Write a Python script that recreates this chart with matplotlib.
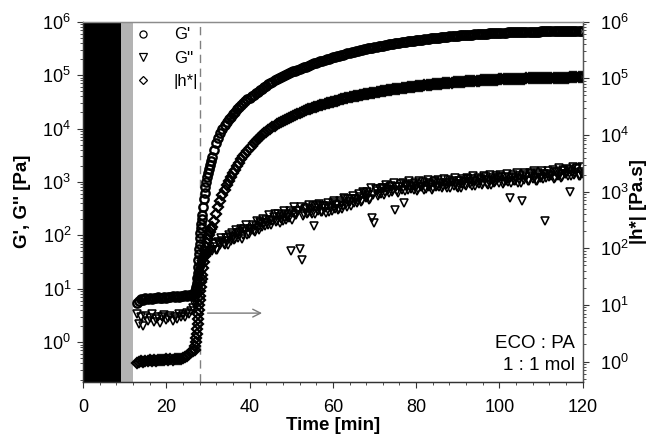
import matplotlib
matplotlib.use("Agg")
import matplotlib.pyplot as plt
from matplotlib.ticker import FixedLocator, MultipleLocator, NullFormatter

plt.rcParams['font.family'] = ['Liberation Sans', 'DejaVu Sans']

# ---------------- data ----------------
# before gelation (min)
time_plateau = [13.0, 13.5, 14.0, 14.5, 15.0, 15.5, 16.0, 16.5, 17.0, 17.5,
                18.0, 18.5, 19.0, 19.5, 20.0, 20.5, 21.0, 21.5, 22.0, 22.5,
                23.0, 23.5, 24.0, 24.5, 25.0, 25.5, 26.0, 26.5]
gp_plateau = [5.4, 5.9, 6.3, 6.2, 6.6, 6.4, 6.7, 6.5, 6.8, 6.6,
              6.9, 6.7, 6.8, 7.0, 6.8, 7.1, 6.9, 7.2, 7.0, 7.3,
              7.1, 7.4, 7.2, 7.5, 7.4, 7.6, 7.7, 7.9]
gpp_plateau = [3.4, 2.2, 2.9, 2.0, 3.1, 2.5, 2.8, 3.3, 2.4, 2.7,
               3.0, 2.3, 2.9, 3.2, 2.6, 2.8, 3.1, 2.5, 3.0, 2.7,
               3.3, 2.9, 3.2, 3.0, 3.5, 3.4, 3.9, 4.4]
eta_plateau = [0.95, 0.98, 1.02, 1.0, 1.04, 1.01, 1.05, 1.03, 1.06, 1.04,
               1.07, 1.05, 1.08, 1.06, 1.09, 1.07, 1.10, 1.08, 1.11, 1.10,
               1.13, 1.12, 1.15, 1.2, 1.27, 1.35, 1.45, 1.55]

# around the gel point (min)
time_gel = [26.8, 27.0, 27.1, 27.2, 27.3, 27.4, 27.5, 27.6, 27.7, 27.8,
            27.9, 28.0, 28.1, 28.2, 28.3, 28.4, 28.5, 28.6, 28.8, 29.0,
            29.2, 29.4, 29.6, 29.8, 30.0, 30.25, 30.5, 30.75, 31.0]
gp_gel = [8.3, 9.0, 9.8, 11, 13, 16, 20, 26, 34, 44,
          56, 70, 88, 110, 135, 165, 200, 240, 340, 470,
          630, 800, 1000, 1220, 1450, 1750, 2080, 2450, 2880]
gpp_gel = [5.0, 5.9, 6.2, 7.8, 8.1, 10.2, 10.5, 13.2, 13.4, 16.8,
           17.2, 21, 21.5, 25, 25.2, 29.5, 28, 32.5, 31.5, 37.5,
           35.5, 41.5, 40.5, 45.5, 44, 50, 48, 53, 51]
eta_gel = [1.6, 1.9, 2.2, 2.6, 3.1, 3.8, 4.6, 5.6, 6.8, 8.2,
           10, 12, 14.5, 17.5, 21, 25, 29, 34, 45, 58,
           72, 88, 105, 125, 145, 170, 195, 215, 235]

# curing (min)
time_cure = [31.5, 32.0, 32.5, 33.0, 33.5, 34.0, 34.5, 35.0, 35.5, 36.0,
             36.5, 37.0, 37.5, 38.0, 38.5, 39.0, 39.5, 40.0, 40.5, 41.0,
             41.5, 42.0, 42.5, 43.0, 43.5, 44.0, 44.5, 45.0, 45.5, 46.0,
             46.5, 47.0, 47.5, 48.0, 48.5, 49.0, 49.5, 50.0, 50.5, 51.0,
             51.5, 52.0, 52.5, 53.0, 53.5, 54.0, 54.5, 55.0, 55.5, 56.0,
             56.5, 57.0, 57.5, 58.0, 58.5, 59.0, 59.5, 60.0, 60.5, 61.0,
             61.5, 62.0, 62.5, 63.0, 63.5, 64.0, 64.5, 65.0, 65.5, 66.0,
             66.5, 67.0, 67.5, 68.0, 68.5, 69.0, 69.5, 70.0, 70.5, 71.0,
             71.5, 72.0, 72.5, 73.0, 73.5, 74.0, 74.5, 75.0, 75.5, 76.0,
             76.5, 77.0, 77.5, 78.0, 78.5, 79.0, 79.5, 80.0, 80.5, 81.0,
             81.5, 82.0, 82.5, 83.0, 83.5, 84.0, 84.5, 85.0, 85.5, 86.0,
             86.5, 87.0, 87.5, 88.0, 88.5, 89.0, 89.5, 90.0, 90.5, 91.0,
             91.5, 92.0, 92.5, 93.0, 93.5, 94.0, 94.5, 95.0, 95.5, 96.0,
             96.5, 97.0, 97.5, 98.0, 98.5, 99.0, 99.5, 100.0, 100.5, 101.0,
             101.5, 102.0, 102.5, 103.0, 103.5, 104.0, 104.5, 105.0, 105.5, 106.0,
             106.5, 107.0, 107.5, 108.0, 108.5, 109.0, 109.5, 110.0, 110.5, 111.0,
             111.5, 112.0, 112.5, 113.0, 113.5, 114.0, 114.5, 115.0, 115.5, 116.0,
             116.5, 117.0, 117.5, 118.0, 118.5, 119.0, 119.5, 120.0]
gp_cure = [3980, 5250, 6610, 8320, 9770, 11500, 13000, 14800, 16600, 18600,
           20700, 22900, 25100, 27500, 29900, 32400, 35100, 37600, 40300, 43200,
           45700, 49000, 52500, 55600, 58900, 63100, 66800, 70800, 75000, 79400,
           83200, 87100, 91200, 95500, 100000, 105000, 108000, 113500, 117500, 121600,
           125900, 130300, 134900, 139600, 144500, 149600, 154900, 160300, 166000, 169800,
           175800, 182000, 186200, 192800, 197200, 204200, 208900, 216300, 221300, 226500,
           231700, 237100, 242700, 248300, 254100, 260000, 266100, 272300, 278600, 285100,
           291100, 297200, 303400, 309700, 316200, 322100, 328100, 334200, 340400, 346700,
           352400, 358100, 363900, 369800, 375800, 381900, 388100, 393600, 399000, 404600,
           410200, 415900, 421700, 427600, 432500, 437500, 442600, 447700, 452900, 458100,
           463400, 468800, 474200, 479800, 485300, 491000, 495500, 500000, 504700, 509300,
           514000, 518800, 523600, 528400, 533300, 538300, 543300, 548300, 552100, 555900,
           559800, 563600, 567500, 571500, 575400, 579400, 583400, 587500, 591600, 595700,
           598400, 601200, 603900, 606700, 609500, 612300, 615200, 618000, 620900, 623700,
           626600, 629500, 632400, 635300, 636800, 638300, 639700, 641200, 642700, 644200,
           645700, 647100, 648600, 650100, 651600, 653100, 654600, 656100, 657700, 659200,
           660500, 661800, 663100, 664400, 665700, 666900, 668100, 669300, 670400, 671500,
           672500, 673400, 674300, 675100, 675900, 676600, 677300, 678000]
gpp_cure = [60, 54, 74, 66, 79, 67, 80, 100, 80, 95,
            86, 112, 100, 134, 102, 121, 100, 134, 127, 123,
            149, 138, 181, 142, 167, 196, 153, 191, 182, 251,
            184, 224, 205, 182, 254, 224, 209, 52, 257, 238,
            287, 56, 34, 248, 330, 266, 298, 253, 152, 326,
            285, 360, 279, 328, 356, 277, 326, 404, 314, 366,
            317, 396, 355, 475, 345, 417, 480, 396, 474, 443,
            520, 441, 608, 499, 569, 487, 210, 170, 669, 583,
            589, 759, 641, 745, 609, 852, 720, 300, 686, 820,
            714, 410, 860, 698, 821, 932, 700, 816, 748, 889,
            811, 709, 948, 799, 900, 765, 1043, 843, 787, 922,
            823, 968, 779, 935, 1047, 837, 905, 783, 1027, 897,
            988, 846, 1134, 903, 831, 1037, 968, 897, 1119, 950,
            1095, 930, 1025, 869, 1181, 994, 1084, 936, 1258, 992,
            1062, 984, 500, 1215, 1037, 1188, 975, 1282, 435, 1096,
            1233, 1040, 1400, 1121, 1252, 1036, 1376, 1205, 1145, 182,
            1428, 1213, 1302, 1144, 1567, 1286, 1420, 1229, 1585, 1390,
            1300, 660, 1553, 1349, 1714, 1292, 1515, 1421]
eta_cure = [302, 398, 525, 692, 871, 1070, 1290, 1510, 1780, 2090,
            2450, 2820, 3240, 3720, 4170, 4680, 5250, 5890, 6460, 7160,
            7820, 8510, 9230, 10000, 10700, 11500, 12200, 13000, 13800, 14600,
            15400, 16200, 17000, 17800, 18600, 19500, 20300, 21100, 22000, 22800,
            23700, 24500, 25400, 26300, 27200, 28200, 29000, 29900, 30800, 31600,
            32600, 33500, 34500, 35500, 36300, 37200, 38000, 38900, 39700, 40600,
            41400, 42300, 43200, 44100, 45000, 45900, 46900, 47900, 48600, 49400,
            50200, 51100, 51900, 52700, 53600, 54500, 55300, 56200, 57000, 57800,
            58600, 59400, 60300, 61100, 61900, 62800, 63700, 64600, 65300, 66100,
            66800, 67600, 68400, 69200, 70000, 70800, 71600, 72400, 73100, 73800,
            74500, 75200, 75900, 76600, 77300, 78000, 78700, 79400, 80100, 80700,
            81400, 82000, 82700, 83400, 84000, 84700, 85400, 86100, 86600, 87100,
            87600, 88100, 88600, 89100, 89700, 90200, 90700, 91200, 91600, 92000,
            92500, 92900, 93300, 93800, 94200, 94600, 95100, 95500, 95800, 96200,
            96500, 96800, 97200, 97500, 97800, 98200, 98500, 98900, 99100, 99300,
            99500, 99800, 100000, 100200, 100500, 100700, 100900, 101200, 101400, 101600,
            101700, 101900, 102100, 102200, 102400, 102600, 102700, 102900, 103000, 103200,
            103300, 103500, 103600, 103800, 103900, 104100, 104200, 104400]

# G'' is also logged between the main sampling instants (min)
time_loss_mid = [31.75, 32.25, 32.75, 33.25, 33.75, 34.25, 34.75, 35.25, 35.75, 36.25,
                 36.75, 37.25, 37.75, 38.25, 38.75, 39.25, 39.75, 40.25, 40.75, 41.25,
                 41.75, 42.25, 42.75, 43.25, 43.75, 44.25, 44.75, 45.25, 45.75, 46.25,
                 46.75, 47.25, 47.75, 48.25, 48.75, 49.25, 49.75, 50.25, 50.75, 51.25,
                 51.75, 52.25, 52.75, 53.25, 53.75, 54.25, 54.75, 55.25, 55.75, 56.25,
                 56.75, 57.25, 57.75, 58.25, 58.75, 59.25, 59.75, 60.25, 60.75, 61.25,
                 61.75, 62.25, 62.75, 63.25, 63.75, 64.25, 64.75, 65.25, 65.75, 66.25,
                 66.75, 67.25, 67.75, 68.25, 68.75, 69.25, 69.75, 70.25, 70.75, 71.25,
                 71.75, 72.25, 72.75, 73.25, 73.75, 74.25, 74.75, 75.25, 75.75, 76.25,
                 76.75, 77.25, 77.75, 78.25, 78.75, 79.25, 79.75, 80.25, 80.75, 81.25,
                 81.75, 82.25, 82.75, 83.25, 83.75, 84.25, 84.75, 85.25, 85.75, 86.25,
                 86.75, 87.25, 87.75, 88.25, 88.75, 89.25, 89.75, 90.25, 90.75, 91.25,
                 91.75, 92.25, 92.75, 93.25, 93.75, 94.25, 94.75, 95.25, 95.75, 96.25,
                 96.75, 97.25, 97.75, 98.25, 98.75, 99.25, 99.75, 100.25, 100.75, 101.25,
                 101.75, 102.25, 102.75, 103.25, 103.75, 104.25, 104.75, 105.25, 105.75, 106.25,
                 106.75, 107.25, 107.75, 108.25, 108.75, 109.25, 109.75, 110.25, 110.75, 111.25,
                 111.75, 112.25, 112.75, 113.25, 113.75, 114.25, 114.75, 115.25, 115.75, 116.25,
                 116.75, 117.25, 117.75, 118.25, 118.75, 119.25, 119.75]
gpp_mid = [70, 53, 71, 91, 68, 90, 66, 94, 110, 83,
           124, 89, 118, 87, 133, 157, 108, 131, 159, 115,
           183, 124, 170, 200, 150, 173, 236, 159, 219, 180,
           251, 171, 236, 281, 194, 242, 283, 194, 335, 240,
           285, 338, 230, 313, 249, 372, 272, 348, 247, 373,
           393, 276, 359, 259, 400, 340, 289, 444, 375, 299,
           445, 318, 495, 386, 470, 349, 537, 480, 405, 605,
           423, 647, 542, 640, 468, 760, 571, 733, 547, 743,
           780, 574, 874, 695, 811, 644, 943, 793, 623, 913,
           953, 672, 849, 1027, 723, 832, 958, 666, 1032, 810,
           992, 738, 1076, 878, 718, 1005, 814, 1095, 954, 767,
           1140, 882, 1064, 776, 1005, 1200, 816, 1050, 774, 1151,
           861, 1206, 994, 1123, 1292, 829, 1165, 1076, 887, 1290,
           1216, 872, 1331, 1065, 939, 1285, 1160, 1357, 904, 1248,
           1386, 1181, 951, 1360, 1041, 1490, 1133, 950, 1351, 1454,
           1033, 1474, 1267, 1577, 1030, 1453, 1163, 1609, 1402, 1167,
           1603, 1361, 1700, 1190, 1534, 1790, 1181, 1674, 1384, 1784,
           1682, 1267, 1869, 1495, 1790, 1267, 1880]

time_min = time_plateau + time_gel + time_cure
g_storage = gp_plateau + gp_gel + gp_cure
g_loss = gpp_plateau + gpp_gel + gpp_cure
eta_complex = eta_plateau + eta_gel + eta_cure
for series in (g_storage, g_loss, eta_complex):
    if len(series) != len(time_min):
        raise ValueError("series length mismatch")
if len(gpp_mid) != len(time_loss_mid):
    raise ValueError("series length mismatch")
time_loss = time_min + time_loss_mid
g_loss_all = g_loss + gpp_mid

# experiment phases (min)
phase_black = (0.0, 9.2)
phase_gray = (9.2, 12.0)
gel_time = 28.0

decades = [1e0, 1e1, 1e2, 1e3, 1e4, 1e5, 1e6]
minor_left = [m * d for d in [0.1] + decades[:-1] for m in range(2, 10)
              if 10 ** -0.74 <= m * d <= 1e6]
minor_right = [m * d for d in [0.1] + decades[:-1] for m in range(2, 10)
               if 0.44 <= m * d <= 1e6]

# ---------------- figure ----------------
W, H = 649, 440
fig = plt.figure(figsize=(W / 100, H / 100), dpi=100)
ax = fig.add_axes([83 / W, 1 - 381.7 / H, (582.7 - 83) / W, (381.7 - 21.7) / H])
ax2 = ax.twinx()

ax.axvspan(*phase_black, color='black', lw=0, zorder=0)
ax.axvspan(*phase_gray, color='#b3b3b3', lw=0, zorder=0)
ax.axvline(gel_time, color='#808080', lw=1.0, ls=(0, (6, 4)), zorder=1)

mk = dict(ls='none', mfc='none', mec='black')
h1, = ax.plot(time_min, g_storage, marker='o', ms=6.0, mew=1.7, label="G'", **mk)
h2, = ax.plot(time_loss, g_loss_all, marker='v', ms=6.0, mew=1.15, label="G''", **mk)
h3, = ax2.plot(time_min, eta_complex, marker='D', ms=4.8, mew=1.6, label='|h*|', **mk)

ax.set_xlim(0, 120)
ax.set_yscale('log')
ax.set_ylim(10 ** -0.74, 1e6)
ax2.set_yscale('log')
ax2.set_ylim(0.44, 1e6)

ax.xaxis.set_major_locator(MultipleLocator(20))
ax.xaxis.set_minor_locator(MultipleLocator(4))
ax.yaxis.set_major_locator(FixedLocator(decades))
ax.yaxis.set_minor_locator(FixedLocator(minor_left))
ax2.yaxis.set_major_locator(FixedLocator(decades))
ax2.yaxis.set_minor_locator(FixedLocator(minor_right))
for a in (ax, ax2):
    a.yaxis.set_minor_formatter(NullFormatter())
    a.tick_params(which='major', direction='out', length=4.5, width=0.8,
                  labelsize=13, color='#333333', pad=4)
    a.tick_params(which='minor', direction='out', length=2.5, width=0.6,
                  color='#333333')
ax.tick_params(axis='x', which='major', pad=8)
ax2.tick_params(axis='y', which='major', pad=8)

for a in (ax, ax2):
    a.spines['top'].set_color('#8c8c8c')
    a.spines['left'].set_color('#333333')
    a.spines['bottom'].set_color('#333333')
    a.spines['right'].set_color('#555555')
    for s in a.spines.values():
        s.set_linewidth(0.9)

ax.set_xlabel('Time [min]', fontsize=13.5, fontweight='bold', labelpad=0.5)
ax.set_ylabel("G', G'' [Pa]", fontsize=13.5, fontweight='bold', labelpad=8)
ax2.set_ylabel('|h*| [Pa.s]', fontsize=13.5, fontweight='bold', labelpad=1)

ax.annotate('', xy=(43.0, 3.5), xytext=(29.9, 3.5),
            arrowprops=dict(arrowstyle='->', color='#7a7a7a', lw=1.0,
                            mutation_scale=14, shrinkA=0, shrinkB=0))

ax.text(0.985, 0.1075, 'ECO : PA', transform=ax.transAxes, ha='right',
        va='center', fontsize=13.5)
ax.text(0.985, 0.046, '1 : 1 mol', transform=ax.transAxes, ha='right',
        va='center', fontsize=13.5)

leg = ax2.legend(handles=[h1, h2, h3], loc='upper left', bbox_to_anchor=(0.083, 1.012),
                 frameon=False, fontsize=12, handlelength=1.0, handletextpad=1.35,
                 labelspacing=0.5, borderaxespad=0.2, markerscale=0.85)
for hd in leg.legend_handles:
    hd.set_markeredgewidth(0.9)

fig.savefig('out.png', dpi=100, facecolor='white')
